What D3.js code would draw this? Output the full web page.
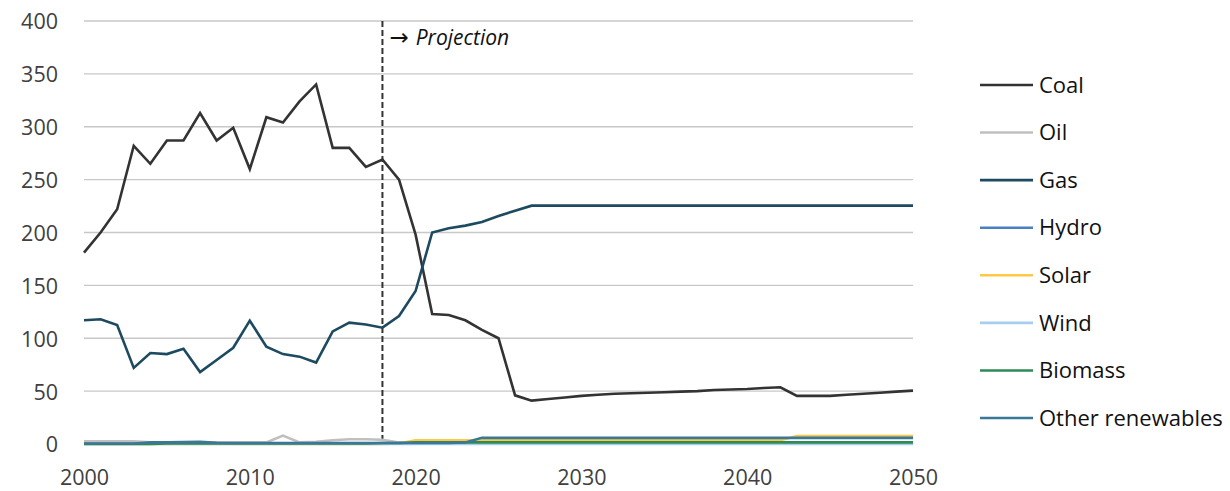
<!DOCTYPE html>
<html>
<head>
<meta charset="utf-8">
<script src="https://cdn.jsdelivr.net/npm/d3@7"></script>
<style>
  html, body { margin: 0; padding: 0; background: #fff; }
  svg { display: block; font-family: "Open Sans", "Noto Sans", sans-serif; }
</style>
</head>
<body>
<svg id="chart" width="1230" height="491"></svg>
<script>
const years = d3.range(2000, 2051);

const coal = [181, 200, 222, 282, 265, 287, 287, 313, 287, 299,
              260, 309, 304, 324, 340, 280, 280, 262, 269, 250,
              198, 123, 122, 117, 108, 100, 46, 41, 42.5, 44,
              45.5, 46.5, 47.5, 48, 48.5, 49, 49.5, 50, 51, 51.5,
              52, 53, 53.6, 45.5, 45.5, 45.5, 46.5, 47.5, 48.5, 49.5, 50.5];

const oil = [2.5, 2.5, 2.5, 2.5, 1.5, 1.5, 1.5, 1.5, 1.5, 1.5,
             1.5, 1.5, 8, 1.5, 2, 3.5, 4.5, 4.5, 4, 1.5,
             1, 1, 1, 1, 1, 1, 1, 1, 1, 1,
             1, 1, 1, 1, 1, 1, 1, 1, 1, 1,
             1, 1, 1, 1, 1, 1, 1, 1, 1, 1, 1];

const gas = [117, 118, 112.5, 72, 86, 85, 90, 68, 79.5, 91,
             116.6, 92, 85, 82.6, 77, 106.5, 114.7, 113, 110, 121,
             144.7, 200, 204, 206.5, 210, 215.6, 220.6, 225.4, 225.4, 225.4,
             225.4, 225.4, 225.4, 225.4, 225.4, 225.4, 225.4, 225.4, 225.4, 225.4,
             225.4, 225.4, 225.4, 225.4, 225.4, 225.4, 225.4, 225.4, 225.4, 225.4, 225.4];

const hydro = [0.3, 0.3, 0.3, 0.3, 0.3, 0.3, 0.3, 0.3, 0.3, 0.3,
               0.3, 0.3, 0.3, 0.3, 0.3, 0.3, 0.3, 0.3, 0.3, 0.3,
               0.3, 0.3, 0.3, 0.3, 0.3, 0.3, 0.3, 0.3, 0.3, 0.3,
               0.3, 0.3, 0.3, 0.3, 0.3, 0.3, 0.3, 0.3, 0.3, 0.3,
               0.3, 0.3, 0.3, 0.3, 0.3, 0.3, 0.3, 0.3, 0.3, 0.3, 0.3];

const solar = [0, 0, 0, 0, 0, 0, 0, 0, 0, 0,
               0, 0, 0, 0, 0, 0, 0, 0, 0, 0.5,
               3.5, 3.5, 3.5, 3.5, 3.5, 3.5, 3.5, 3.5, 3.5, 3.5,
               3.5, 3.5, 3.5, 3.5, 3.5, 3.5, 3.5, 3.5, 3.5, 3.5,
               3.5, 3.5, 3.5, 7.5, 7.5, 7.5, 7.5, 7.5, 7.5, 7.5, 7.5];

const wind = [0, 0, 0, 0, 0, 0, 0, 0, 0, 0,
              0, 0, 0, 0, 0, 0, 0, 0, 0, 0,
              0, 0, 0, 0, 0, 0, 0, 0, 0, 0,
              0, 0, 0, 0, 0, 0, 0, 0, 0, 0,
              0, 0, 0, 0, 0, 0, 0, 0, 0, 0, 0];

const biomass = [0, 0, 0, 0, 0, 0.5, 0.5, 0.5, 0.5, 0.5,
                 0.5, 0.5, 0.5, 0.5, 0.5, 0.5, 0.5, 0.5, 1, 1,
                 1.5, 1.5, 1.5, 1.5, 1.5, 1.5, 1.5, 1.5, 1.5, 1.5,
                 1.5, 1.5, 1.5, 1.5, 1.5, 1.5, 1.5, 1.5, 1.5, 1.5,
                 1.5, 1.5, 1.5, 1.5, 1.5, 1.5, 1.5, 1.5, 1.5, 1.5, 1.5];

const otherRenewables = [0.5, 0.5, 0.5, 0.5, 1.5, 1.5, 1.8, 2, 1.2, 1,
                         1, 1, 1, 1, 1, 1, 1, 1, 1, 1,
                         1, 1, 1, 1.5, 5.8, 5.8, 5.8, 5.8, 5.8, 5.8,
                         5.8, 5.8, 5.8, 5.8, 5.8, 5.8, 5.8, 5.8, 5.8, 5.8,
                         5.8, 5.8, 5.8, 5.8, 5.8, 5.8, 5.8, 5.8, 5.8, 5.8, 5.8];

const seriesNames = ["Coal", "Oil", "Gas", "Hydro", "Solar", "Wind", "Biomass", "Other renewables"];
const seriesValues = [coal, oil, gas, hydro, solar, wind, biomass, otherRenewables];
const seriesColors = ["#333333", "#bfbfbf", "#1d4a60", "#4a7fc1", "#ffc845", "#a8cdef", "#2e8a57", "#3b7796"];

const yTicks = [0, 50, 100, 150, 200, 250, 300, 350, 400];
const xTicks = [2000, 2010, 2020, 2030, 2040, 2050];
const projectionYear = 2018;
const projectionLabel = "Projection";

const svg = d3.select("#chart");
const plotLeft = 84, plotRight = 913, plotTop = 21, plotBottom = 444;

const x = d3.scaleLinear().domain([2000, 2050]).range([plotLeft, plotRight]);
const y = d3.scaleLinear().domain([0, 400]).range([plotBottom, plotTop]);

// gridlines
svg.append("g")
  .selectAll("line")
  .data(yTicks)
  .join("line")
  .attr("x1", plotLeft).attr("x2", plotRight)
  .attr("y1", d => y(d)).attr("y2", d => y(d))
  .attr("stroke", "#c8c8c8").attr("stroke-width", 1.3);

// y axis labels
const yAxis = d3.axisLeft(y).tickValues(yTicks).tickSize(0).tickPadding(0);
const gy = svg.append("g").attr("transform", `translate(58,1)`).call(yAxis);
gy.select(".domain").remove();
gy.selectAll("text").attr("font-size", 21.5).attr("fill", "#404040")
  .attr("font-family", '"Open Sans", sans-serif');

// x axis labels
const xAxis = d3.axisBottom(x).tickValues(xTicks).tickFormat(d3.format("d")).tickSize(0).tickPadding(0);
const gx = svg.append("g").attr("transform", `translate(0,470)`).call(xAxis);
gx.select(".domain").remove();
gx.selectAll("text").attr("font-size", 21.5).attr("fill", "#404040")
  .attr("font-family", '"Open Sans", sans-serif');

// projection line
svg.append("line")
  .attr("x1", x(projectionYear)).attr("x2", x(projectionYear))
  .attr("y1", plotTop).attr("y2", plotBottom)
  .attr("stroke", "#333").attr("stroke-width", 2)
  .attr("stroke-dasharray", "6,3");

const ptxt = svg.append("text")
  .attr("x", x(projectionYear) + 7).attr("y", 45)
  .attr("font-size", 21).attr("fill", "#111");
ptxt.append("tspan").attr("font-family", "DejaVu Sans").attr("font-size", 23).text("→");
ptxt.append("tspan").attr("dx", 7).attr("font-style", "italic").text(projectionLabel);

// lines
const line = d3.line().x((d, i) => x(years[i])).y(d => y(d));
svg.append("g")
  .selectAll("path")
  .data(seriesValues)
  .join("path")
  .attr("d", d => line(d))
  .attr("fill", "none")
  .attr("stroke", (d, i) => seriesColors[i])
  .attr("stroke-width", 2.6)
  .attr("stroke-linejoin", "miter");

// legend
const legend = svg.append("g");
const legY = d3.scaleLinear().domain([0, 7]).range([85, 418]);
seriesNames.forEach((name, i) => {
  const ly = legY(i);
  legend.append("line")
    .attr("x1", 980).attr("x2", 1033)
    .attr("y1", ly).attr("y2", ly)
    .attr("stroke", seriesColors[i]).attr("stroke-width", 2.6);
  legend.append("text")
    .attr("x", 1039).attr("y", ly).attr("dy", "0.35em")
    .attr("font-size", 22).attr("fill", "#111")
    .text(name);
});
</script>
</body>
</html>
